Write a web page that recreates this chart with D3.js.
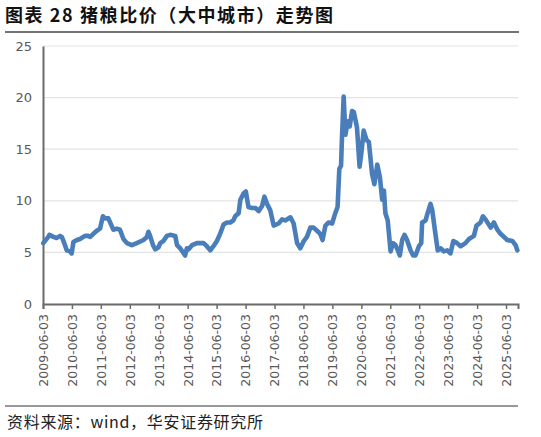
<!DOCTYPE html>
<html><head><meta charset="utf-8">
<script src="https://cdn.jsdelivr.net/npm/d3@7/dist/d3.min.js"></script>
<style>body{margin:0;background:#fff}svg{display:block}</style>
</head><body>
<svg id="c" width="541" height="437"></svg>
<script>
// decimal-year time points and pig/grain price ratio values
const times = [2009.43,2009.60,2009.64,2009.78,2009.89,2010.01,2010.07,2010.18,2010.24,2010.35,2010.41,2010.47,2010.59,2010.70,2010.87,2010.99,2011.05,2011.16,2011.28,2011.39,2011.49,2011.57,2011.68,2011.74,2011.85,2011.97,2012.08,2012.20,2012.32,2012.49,2012.66,2012.89,2013.01,2013.06,2013.12,2013.22,2013.30,2013.41,2013.47,2013.58,2013.70,2013.81,2013.99,2014.05,2014.16,2014.33,2014.39,2014.45,2014.57,2014.74,2014.97,2015.08,2015.20,2015.31,2015.43,2015.54,2015.66,2015.78,2015.89,2016.00,2016.06,2016.18,2016.24,2016.35,2016.43,2016.47,2016.52,2016.64,2016.76,2016.87,2016.99,2017.07,2017.16,2017.27,2017.39,2017.56,2017.68,2017.79,2017.97,2018.08,2018.20,2018.31,2018.43,2018.54,2018.66,2018.77,2018.89,2019.00,2019.08,2019.18,2019.29,2019.41,2019.52,2019.60,2019.66,2019.72,2019.75,2019.81,2019.87,2019.95,2020.02,2020.10,2020.16,2020.27,2020.36,2020.42,2020.50,2020.60,2020.68,2020.79,2020.87,2020.97,2021.06,2021.14,2021.20,2021.25,2021.33,2021.43,2021.51,2021.60,2021.68,2021.75,2021.83,2021.91,2022.00,2022.12,2022.21,2022.29,2022.41,2022.49,2022.52,2022.64,2022.72,2022.81,2022.87,2022.98,2023.06,2023.16,2023.27,2023.39,2023.50,2023.60,2023.73,2023.85,2024.02,2024.14,2024.31,2024.40,2024.54,2024.62,2024.71,2024.89,2025.00,2025.12,2025.23,2025.35,2025.46,2025.64,2025.75,2025.81];
const values = [5.9,6.5,6.7,6.5,6.4,6.6,6.5,5.7,5.2,5.1,4.9,6.0,6.2,6.3,6.6,6.6,6.5,6.8,7.1,7.3,8.5,8.3,8.3,7.9,7.2,7.3,7.2,6.3,5.9,5.7,5.9,6.2,6.5,7.0,6.6,5.7,5.3,5.5,5.9,6.1,6.6,6.7,6.6,5.7,5.4,4.7,5.4,5.3,5.7,5.9,5.9,5.6,5.2,5.6,6.1,6.8,7.7,7.9,7.9,8.1,8.5,8.8,10.1,10.7,10.9,10.2,9.4,9.3,9.3,9.0,9.5,10.4,9.7,9.1,7.6,7.8,8.2,8.1,8.4,7.8,5.9,5.4,6.1,6.5,7.4,7.4,7.1,6.8,6.2,7.6,7.9,7.8,8.8,9.4,13.1,13.4,16.0,20.1,16.4,17.7,17.2,18.7,18.6,17.1,13.3,14.6,16.8,15.9,15.7,12.6,11.6,13.5,12.3,10.1,11.0,8.8,8.1,5.1,5.9,5.7,5.2,4.7,6.2,6.7,6.2,5.2,4.7,4.7,5.6,5.9,7.9,8.1,8.9,9.7,9.1,6.8,5.2,5.4,5.1,5.2,4.9,6.1,5.9,5.6,5.9,6.3,6.6,7.6,7.9,8.5,8.2,7.4,7.9,7.2,6.8,6.5,6.2,6.1,5.7,5.2];
const tickLabels = ["2009-06-03","2010-06-03","2011-06-03","2012-06-03","2013-06-03","2014-06-03","2015-06-03","2016-06-03","2017-06-03","2018-06-03","2019-06-03","2020-06-03","2021-06-03","2022-06-03","2023-06-03","2024-06-03","2025-06-03"];
const yTicks = [0,5,10,15,20,25];
const titleText = "图表 28 猪粮比价（大中城市）走势图";
const sourceText = "资料来源：wind，华安证券研究所";

const toDate = t => { const y = Math.floor(t); const a = new Date(y,0,1), b = new Date(y+1,0,1); return new Date(+a + (t-y)*(b-a)); };
const parse = d3.timeParse("%Y-%m-%d");
const data = times.map((t,i)=>({d:toDate(t), v:values[i]}));

const svg = d3.select("#c");
const L=43, R=518, T=46, B=304;
const x = d3.scaleTime().domain([parse("2009-06-03"), parse("2025-11-01")]).range([L,R]);
const y = d3.scaleLinear().domain([0,25]).range([B,T]);

// title
svg.append("text").attr("x",5).attr("y",22).attr("font-family","'Noto Sans CJK SC',sans-serif")
  .attr("font-weight","bold").attr("font-size",18).attr("fill","#111").attr("textLength",328).text(titleText);
svg.append("line").attr("x1",5).attr("x2",519).attr("y1",32).attr("y2",32).attr("stroke","#444").attr("stroke-width",1.5);

// grid
svg.append("g").selectAll("line").data(yTicks.filter(d=>d>0)).join("line")
  .attr("x1",L).attr("x2",R).attr("y1",d=>y(d)).attr("y2",d=>y(d))
  .attr("stroke","#e3e3e3").attr("stroke-width",1.2);

// y axis
const ya = svg.append("g").attr("transform",`translate(${L},0)`).call(d3.axisLeft(y).tickValues(yTicks).tickSize(0).tickPadding(11));
ya.select(".domain").attr("stroke","#6b6b6b").attr("stroke-width",2);
ya.selectAll("text").attr("font-family","'DejaVu Sans',sans-serif").attr("font-size",13).attr("fill","#595959");

// x axis
const xa = svg.append("g").attr("transform",`translate(0,${B})`)
  .call(d3.axisBottom(x).tickValues(tickLabels.map(parse)).tickSize(5).tickFormat((d,i)=>tickLabels[i]));
xa.select(".domain").attr("stroke","#6b6b6b").attr("stroke-width",2);
xa.selectAll(".tick line").attr("stroke","#6b6b6b").attr("stroke-width",1.5);
xa.selectAll("text").attr("font-family","'DejaVu Sans',sans-serif").attr("font-size",12.5).attr("fill","#595959")
  .attr("text-anchor","end").attr("transform","translate(0,10) rotate(-90)").attr("x",0).attr("y",0).attr("dy","0.35em");

// line
svg.append("path").datum(data).attr("fill","none").attr("stroke","#4a7ebb").attr("stroke-width",4.6)
  .attr("stroke-linejoin","round").attr("stroke-linecap","round")
  .attr("d", d3.line().x(d=>x(d.d)).y(d=>y(d.v)));

// footer
svg.append("line").attr("x1",5).attr("x2",518).attr("y1",406).attr("y2",406).attr("stroke","#333").attr("stroke-width",1.2);
svg.append("text").attr("x",7).attr("y",428).attr("font-family","'Noto Sans CJK SC',sans-serif")
  .attr("font-size",16).attr("fill","#222").attr("textLength",256).text(sourceText);
</script>
</body></html>
